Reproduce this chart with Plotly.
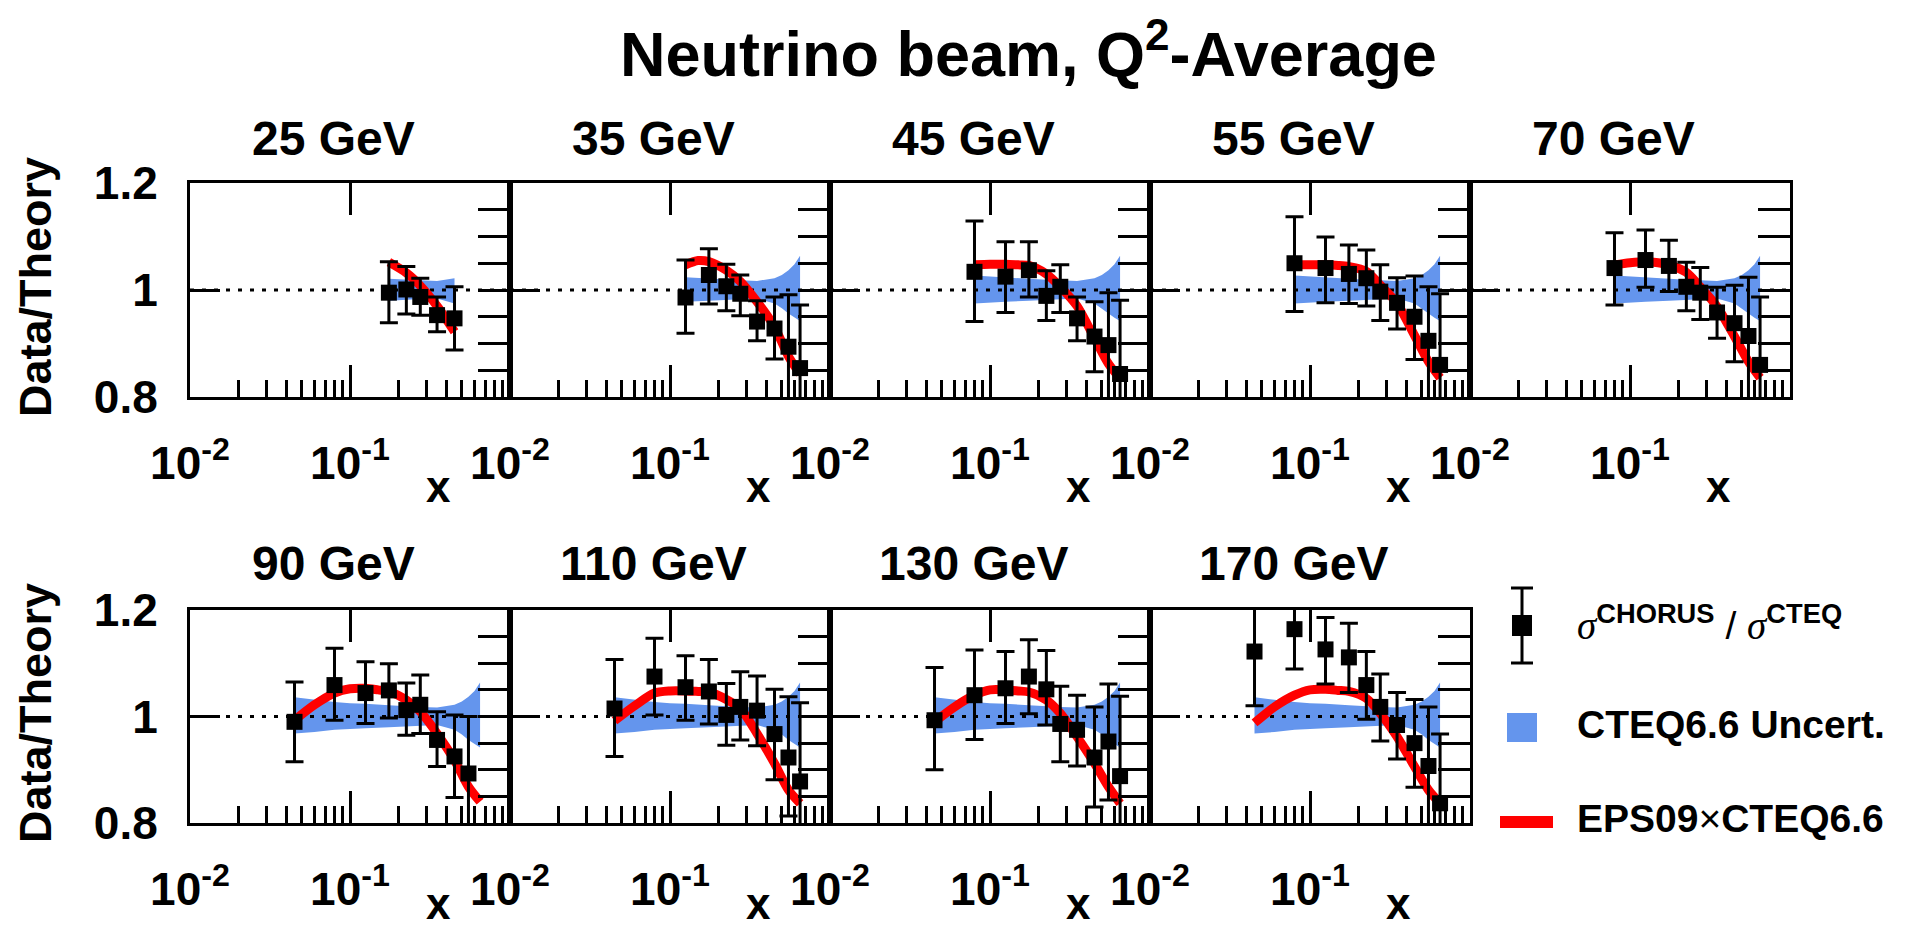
import plotly.graph_objects as go

W, H = 1908, 930
FONT = "Liberation Sans, Arial, Helvetica, sans-serif"

# ---------------- data ----------------
energies = ["25 GeV", "35 GeV", "45 GeV", "55 GeV", "70 GeV",
            "90 GeV", "110 GeV", "130 GeV", "170 GeV"]

x_bins = [0.045, 0.08, 0.125, 0.175, 0.225, 0.275, 0.35, 0.45, 0.55, 0.65]

ratio_25 = [None, None, None, 0.995, 1.001, 0.987, 0.953, 0.947, None, None]
up_25    = [None, None, None, 1.053, 1.044, 1.022, 0.987, 1.006, None, None]
lo_25    = [None, None, None, 0.939, 0.955, 0.953, 0.922, 0.888, None, None]

ratio_35 = [None, None, 0.986, 1.028, 1.007, 0.993, 0.941, 0.928, 0.894, 0.854]
up_35    = [None, None, 1.056, 1.077, 1.048, 1.028, 0.980, 0.987, 0.991, 0.972]
lo_35    = [None, None, 0.919, 0.974, 0.961, 0.952, 0.905, 0.871, 0.780, 0.740]

ratio_45 = [None, 1.034, 1.025, 1.037, 0.989, 1.006, 0.947, 0.913, 0.897, 0.843]
up_45    = [None, 1.129, 1.090, 1.090, 1.036, 1.047, 0.987, 0.978, 0.995, 0.981]
lo_45    = [None, 0.941, 0.958, 0.987, 0.943, 0.958, 0.905, 0.847, 0.790, 0.700]

ratio_55 = [None, 1.050, 1.041, 1.030, 1.022, 0.997, 0.976, 0.950, 0.905, 0.860]
up_55    = [None, 1.137, 1.099, 1.084, 1.075, 1.047, 1.023, 1.026, 1.006, 0.993]
lo_55    = [None, 0.960, 0.976, 0.975, 0.970, 0.943, 0.927, 0.870, 0.790, 0.720]

ratio_70 = [None, 1.041, 1.056, 1.045, 1.006, 0.995, 0.958, 0.938, 0.914, 0.860]
up_70    = [None, 1.107, 1.112, 1.093, 1.052, 1.042, 1.005, 1.009, 1.024, 0.987]
lo_70    = [None, 0.972, 1.005, 0.997, 0.961, 0.945, 0.910, 0.866, 0.790, 0.730]

ratio_90 = [0.990, 1.059, 1.044, 1.049, 1.012, 1.022, 0.956, 0.925, 0.893, None]
up_90    = [1.065, 1.128, 1.103, 1.099, 1.063, 1.078, 1.009, 1.003, 1.000, None]
lo_90    = [0.915, 0.993, 0.987, 0.997, 0.965, 0.968, 0.906, 0.848, 0.780, None]

ratio_110 = [1.015, 1.075, 1.055, 1.047, 1.003, 1.018, 1.011, 0.967, 0.923, 0.878]
up_110    = [1.107, 1.147, 1.114, 1.107, 1.062, 1.084, 1.076, 1.051, 1.037, 1.026]
lo_110    = [0.925, 1.003, 0.993, 0.986, 0.946, 0.956, 0.945, 0.881, 0.813, 0.740]

ratio_130 = [0.993, 1.040, 1.053, 1.075, 1.051, 0.986, 0.975, 0.923, 0.953, 0.888]
up_130    = [1.092, 1.125, 1.122, 1.144, 1.124, 1.057, 1.040, 1.018, 1.061, 1.038]
lo_130    = [0.900, 0.957, 0.987, 1.005, 0.984, 0.915, 0.907, 0.830, 0.843, 0.740]

ratio_170 = [1.122, 1.164, 1.126, 1.111, 1.059, 1.018, 0.984, 0.950, 0.907, 0.837]
up_170    = [1.230, 1.240, 1.186, 1.175, 1.122, 1.080, 1.045, 1.032, 1.018, 0.967]
lo_170    = [1.020, 1.089, 1.061, 1.045, 0.995, 0.954, 0.920, 0.867, 0.790, 0.710]

# EPS09 x CTEQ6.6 curve
red_x = [0.045, 0.06, 0.08, 0.1, 0.125, 0.15, 0.175, 0.225, 0.275, 0.35, 0.45, 0.55, 0.65]
red_25  = [None, None, None, None, None, None, 1.052, 1.032, 1.008, 0.970, 0.922, None, None]
red_35  = [None, None, None, None, 1.047, 1.055, 1.053, 1.037, 1.016, 0.978, 0.931, 0.876, 0.843]
red_45  = [None, None, 1.047, 1.048, 1.048, 1.047, 1.046, 1.030, 1.006, 0.970, 0.910, 0.862, 0.835]
red_55  = [None, None, 1.047, 1.047, 1.047, 1.046, 1.044, 1.035, 1.009, 0.975, 0.915, 0.866, 0.836]
red_70  = [None, None, 1.047, 1.051, 1.053, 1.051, 1.047, 1.033, 1.006, 0.969, 0.913, 0.866, 0.836]
red_90  = [0.993, 1.022, 1.044, 1.052, 1.053, 1.050, 1.047, 1.031, 1.009, 0.968, 0.918, 0.868, 0.840]
red_110 = [0.992, 1.020, 1.044, 1.048, 1.048, 1.047, 1.046, 1.032, 1.015, 0.968, 0.912, 0.862, 0.837]
red_130 = [0.990, 1.018, 1.040, 1.050, 1.050, 1.048, 1.046, 1.031, 1.006, 0.962, 0.912, 0.868, 0.837]
red_170 = [0.988, 1.018, 1.040, 1.050, 1.051, 1.049, 1.047, 1.034, 1.006, 0.962, 0.906, 0.862, 0.837]

# CTEQ6.6 uncertainty band
band_x  = [0.045, 0.06, 0.08, 0.1, 0.125, 0.175, 0.225, 0.275, 0.35, 0.45, 0.5, 0.55, 0.6, 0.65]
band_hi = [1.036, 1.031, 1.027, 1.025, 1.024, 1.021, 1.019, 1.018, 1.017, 1.022, 1.028, 1.037, 1.048, 1.064]
band_lo = [0.968, 0.971, 0.975, 0.977, 0.978, 0.980, 0.982, 0.983, 0.984, 0.975, 0.966, 0.956, 0.948, 0.942]
theory_xmin = [0.175, 0.125, 0.08, 0.08, 0.08, 0.045, 0.045, 0.045, 0.045]
theory_xmax = [0.45, 0.65, 0.65, 0.65, 0.65, 0.65, 0.65, 0.65, 0.65]

ratios = [ratio_25, ratio_35, ratio_45, ratio_55, ratio_70, ratio_90, ratio_110, ratio_130, ratio_170]
ups = [up_25, up_35, up_45, up_55, up_70, up_90, up_110, up_130, up_170]
los = [lo_25, lo_35, lo_45, lo_55, lo_70, lo_90, lo_110, lo_130, lo_170]
reds = [red_25, red_35, red_45, red_55, red_70, red_90, red_110, red_130, red_170]

x_tickvals = [0.01, 0.1]
x_ticktext = ["10<sup>-2</sup>", "10<sup>-1</sup>"]
y_tickvals = [0.8, 1.0, 1.2]
y_ticktext = ["0.8", "1", "1.2"]
y_minor = [0.85, 0.9, 0.95, 1.0, 1.05, 1.1, 1.15]
x_minor = [k * 10.0 ** e for e in (-2, -1) for k in range(2, 10)]

BLUE = "#6495ED"
RED = "#FF0000"

# ---------------- geometry ----------------
col_left = [190, 510, 830, 1150, 1470]
panel_w = 320
row_top = [183, 610]
row_bot = [397, 823]


def fx(p):
    return p / W


def fy(p):
    return 1 - p / H


fig = go.Figure()
lay = {}
annotations = []
shapes = []

tickfont = dict(family=FONT, size=46, color="black", weight="bold")

for i in range(9):
    r, c = divmod(i, 5)
    L = col_left[c]
    a = 2 * i + 1
    b = a + 1
    xm, ym = f"x{a}", f"y{a}"
    xo, yo = f"x{b}", f"y{b}"
    xdom = [fx(L), fx(L + panel_w)]
    ydom = [fy(row_bot[r]), fy(row_top[r])]

    inside = [k for k, v in enumerate(band_x) if theory_xmin[i] - 1e-9 <= v <= theory_xmax[i] + 1e-9]
    bx = [band_x[k] for k in inside]
    bh = [band_hi[k] for k in inside]
    bl = [band_lo[k] for k in inside]
    fig.add_trace(go.Scatter(x=bx + bx[::-1], y=bh + bl[::-1], fill="toself",
                             fillcolor=BLUE, line=dict(width=0), mode="lines",
                             hoverinfo="skip", showlegend=False, xaxis=xm, yaxis=ym))
    fig.add_trace(go.Scatter(x=[0.01, 1.0], y=[1.0, 1.0], mode="lines",
                             line=dict(color="black", width=3, dash="4px,8px"),
                             hoverinfo="skip", showlegend=False, xaxis=xm, yaxis=ym))
    rx = [xv for xv, yv in zip(red_x, reds[i]) if yv is not None]
    ry = [yv for yv in reds[i] if yv is not None]
    fig.add_trace(go.Scatter(x=rx, y=ry, mode="lines",
                             line=dict(color=RED, width=9, shape="spline", smoothing=0.8),
                             showlegend=False, xaxis=xm, yaxis=ym))
    px_, py_, eu, ed = [], [], [], []
    for xv, yv, uv, lv in zip(x_bins, ratios[i], ups[i], los[i]):
        if yv is None:
            continue
        px_.append(xv)
        py_.append(yv)
        eu.append(uv - yv)
        ed.append(yv - lv)
    fig.add_trace(go.Scatter(x=px_, y=py_, mode="markers",
                             marker=dict(symbol="square", size=16, color="black"),
                             error_y=dict(type="data", symmetric=False, array=eu, arrayminus=ed,
                                          color="black", thickness=3, width=9),
                             showlegend=False, xaxis=xm, yaxis=ym))
    fig.add_trace(go.Scatter(x=[None], y=[None], mode="markers", showlegend=False,
                             hoverinfo="skip", xaxis=xo, yaxis=yo))

    lay[f"xaxis{a}"] = dict(
        type="log", range=[-2, 0], domain=xdom, anchor=ym, automargin=False,
        showline=True, linecolor="black", linewidth=3, mirror=True,
        showgrid=False, zeroline=False,
        ticks="inside", ticklen=32, tickwidth=3, tickcolor="black",
        tickmode="array", tickvals=x_tickvals, ticktext=x_ticktext,
        tickfont=tickfont, ticklabelstandoff=24,
        minor=dict(tickmode="array", tickvals=x_minor, ticks="inside",
                   ticklen=17, tickwidth=3, tickcolor="black", showgrid=False),
    )
    lay[f"xaxis{b}"] = dict(
        type="log", range=[-2, 0], overlaying=xm, anchor=yo, side="top", automargin=False,
        showline=False, showgrid=False, zeroline=False,
        ticks="inside", ticklen=32, tickwidth=3, tickcolor="black",
        tickmode="array", tickvals=[0.1], showticklabels=False,
    )
    lay[f"yaxis{a}"] = dict(
        range=[0.8, 1.2], domain=ydom, anchor=xm, automargin=False,
        showline=True, linecolor="black", linewidth=3, mirror=True,
        showgrid=False, zeroline=False,
        ticks="inside", ticklen=30, tickwidth=3, tickcolor="black",
        tickmode="array", tickvals=y_tickvals, ticktext=y_ticktext,
        showticklabels=(c == 0), tickfont=tickfont, ticklabelstandoff=20,
    )
    lay[f"yaxis{b}"] = dict(
        range=[0.8, 1.2], overlaying=ym, anchor=xo, side="right", automargin=False,
        showline=False, showgrid=False, zeroline=False,
        ticks="inside", ticklen=32, tickwidth=3, tickcolor="black",
        tickmode="array", tickvals=y_minor, showticklabels=False,
    )

    annotations.append(dict(text=energies[i], x=fx(L + 160 - 17),
                            y=fy([138.5, 563][r]), xref="paper", yref="paper",
                            showarrow=False, xanchor="center", yanchor="middle",
                            font=dict(family=FONT, size=48, color="black", weight="bold")))
    annotations.append(dict(text="x", x=fx(L + 248), y=fy([513, 930][r]),
                            xref="paper", yref="paper", showarrow=False,
                            xanchor="center", yanchor="bottom",
                            font=dict(family=FONT, size=44, color="black", weight="bold")))

for r in range(2):
    annotations.append(dict(text="Data/Theory", x=fx(35), y=fy([287, 713][r]),
                            xref="paper", yref="paper", showarrow=False, textangle=-90,
                            xanchor="center", yanchor="middle",
                            font=dict(family=FONT, size=45, color="black", weight="bold")))

annotations.append(dict(text="Neutrino beam, Q<sup>2</sup>-Average", x=fx(1028), y=fy(50),
                        xref="paper", yref="paper", showarrow=False,
                        xanchor="center", yanchor="middle",
                        font=dict(family=FONT, size=63, color="black", weight="bold")))

# ---------------- legend ----------------
leg_font = dict(family=FONT, size=39, color="black", weight="bold")
sig = "<span style=\"font-family:'Liberation Serif';font-weight:normal\"><i>σ</i></span>"
annotations.append(dict(text=sig + "<sup>CHORUS</sup> <span style=\"font-weight:normal\">/</span> " + sig + "<sup>CTEQ</sup>",
                        x=fx(1575), y=fy(622), xref="paper", yref="paper", showarrow=False,
                        xanchor="left", yanchor="middle", font=leg_font))
annotations.append(dict(text="CTEQ6.6 Uncert.", x=fx(1575), y=fy(724), xref="paper",
                        yref="paper", showarrow=False, xanchor="left", yanchor="middle",
                        font=leg_font))
annotations.append(dict(text="EPS09<span style=\"font-weight:normal\">×</span>CTEQ6.6", x=fx(1575), y=fy(818), xref="paper",
                        yref="paper", showarrow=False, xanchor="left", yanchor="middle",
                        font=leg_font))

line_k = dict(color="black", width=3)
shapes += [
    dict(type="line", xref="paper", yref="paper", x0=fx(1522), x1=fx(1522), y0=fy(588), y1=fy(663), line=line_k),
    dict(type="line", xref="paper", yref="paper", x0=fx(1511), x1=fx(1533), y0=fy(588), y1=fy(588), line=line_k),
    dict(type="line", xref="paper", yref="paper", x0=fx(1511), x1=fx(1533), y0=fy(663), y1=fy(663), line=line_k),
    dict(type="rect", xref="paper", yref="paper", x0=fx(1512), x1=fx(1532), y0=fy(636), y1=fy(615),
         fillcolor="black", line=dict(width=0)),
    dict(type="rect", xref="paper", yref="paper", x0=fx(1507), x1=fx(1537), y0=fy(742), y1=fy(713),
         fillcolor=BLUE, line=dict(width=0)),
    dict(type="line", xref="paper", yref="paper", x0=fx(1500), x1=fx(1553), y0=fy(822), y1=fy(822),
         line=dict(color=RED, width=12)),
]

fig.update_layout(
    width=W, height=H, margin=dict(l=0, r=0, t=0, b=0, pad=0, autoexpand=False),
    paper_bgcolor="white", plot_bgcolor="white",
    showlegend=False, annotations=annotations, shapes=shapes,
    **lay,
)

fig.write_html("out.html", config={"displayModeBar": False},
               post_script="document.body.style.margin='0';")
